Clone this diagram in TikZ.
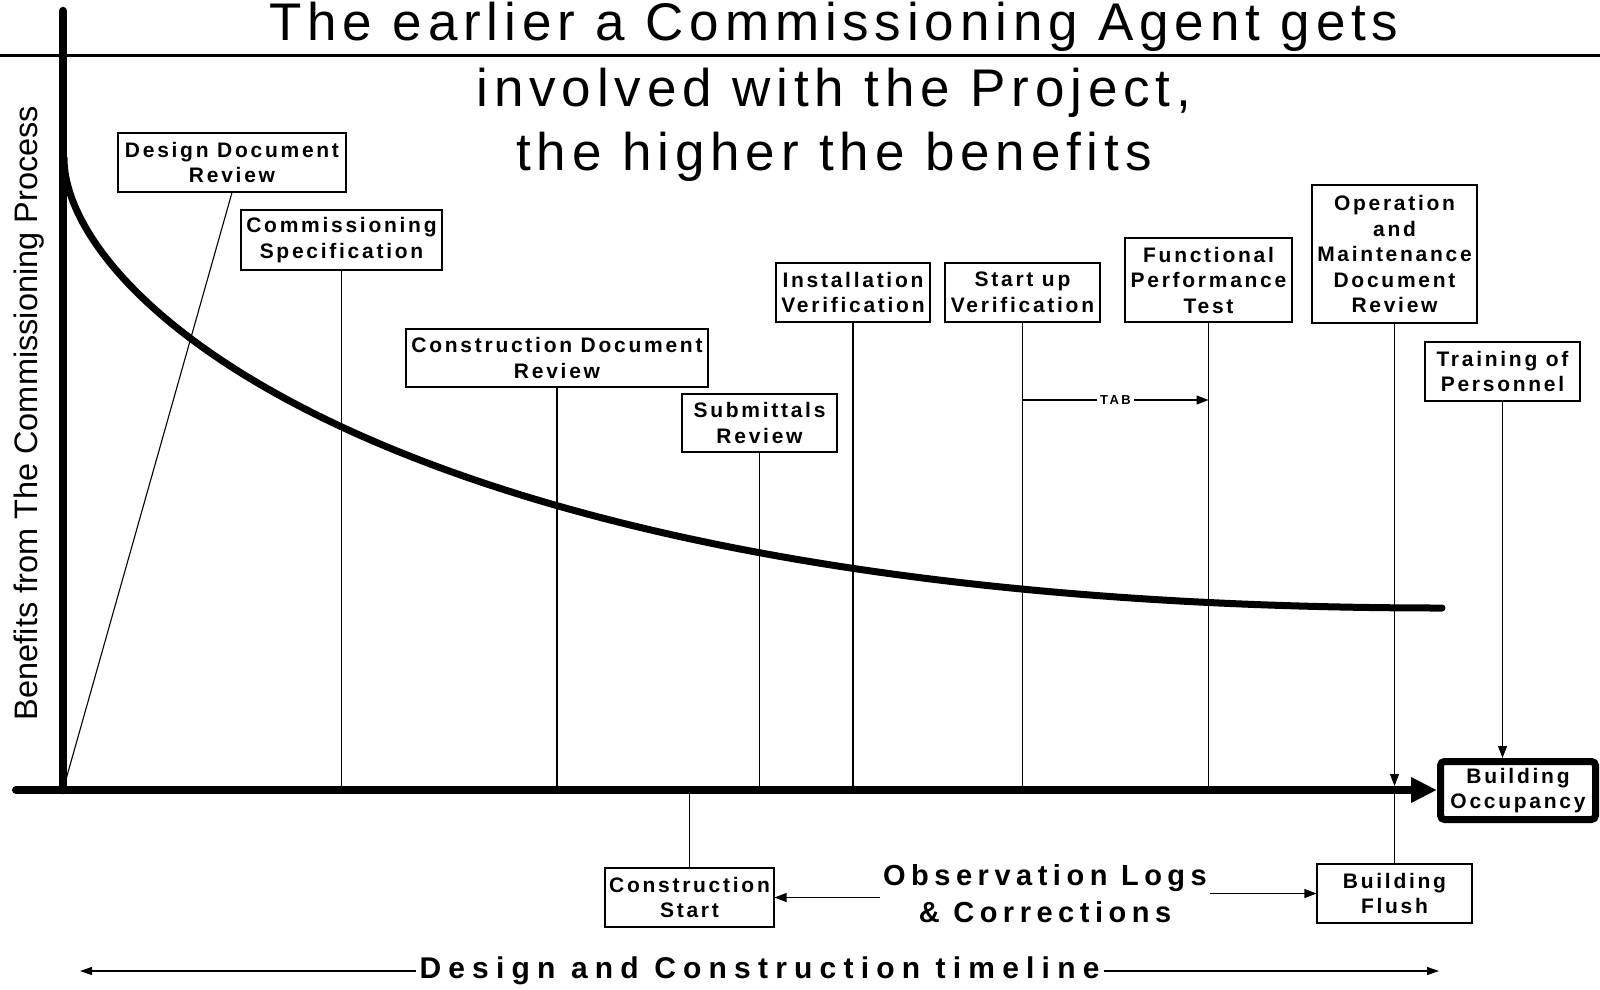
\documentclass[tikz,border=0pt]{standalone}
\usepackage{fontspec}
\setmainfont{Liberation Sans}
\newfontfamily\titlefont{Liberation Sans}[LetterSpace=11]
\newfontfamily\boxfont{Liberation Sans}[LetterSpace=13]
\newfontfamily\obsfont{Liberation Sans}[LetterSpace=19]
\newfontfamily\timefont{Liberation Sans}[LetterSpace=24]
\usetikzlibrary{arrows.meta,calc}

\tikzset{
  phase/.style={draw, line width=1.1pt, align=center, inner sep=0pt,
    font=\boxfont\bfseries\fontsize{21pt}{25.5pt}\selectfont},
  thin line/.style={line width=1.1pt},
  small tip/.style={-{Triangle[length=12pt,width=9pt]}},
}

\begin{document}
\begin{tikzpicture}[x=1pt, y=-1pt]  % one unit per pixel, y pointing down
    \useasboundingbox (0,0) rectangle (1600,989);

    % Title with the rule under its first line
    \draw[line width=2.5pt] (0,55.5) -- (1600,55.5);
    \node[anchor=base, font=\titlefont\fontsize{53pt}{64pt}\selectfont] (title1) at (834,40) {The earlier a Commissioning Agent gets};
    \node[anchor=base, font=\titlefont\fontsize{53pt}{64pt}\selectfont] (title2) at (834,106) {involved with the Project,};
    \node[anchor=base, font=\titlefont\fontsize{53pt}{64pt}\selectfont] (title3) at (834,170) {the higher the benefits};

    % Vertical axis and its label
    \coordinate (origin) at (63,790);
    \draw[line width=8.5pt, line cap=round] (origin) -- (63,11);
    \node[rotate=90, font=\fontsize{32.5pt}{40pt}\selectfont] (ylabel) at (29,413) {Benefits from The Commissioning Process};

    % Benefit curve
    \draw[line width=7pt, line cap=round] (64,158) .. controls (64,300) and (400,608) .. (1442,608);

    % Process steps above the timeline
    \node[phase, minimum width=228pt, minimum height=59pt] (dd) at (232,162.5) {Design Document\\Review};
    \node[phase, minimum width=201pt, minimum height=60pt] (cs) at (341.5,240) {Commissioning\\Specification};
    \node[phase, minimum width=302pt, minimum height=58pt] (cdr) at (557,358) {Construction Document\\Review};
    \node[phase, minimum width=155pt, minimum height=58pt] (sub) at (759.5,423) {Submittals\\Review};
    \node[phase, minimum width=154pt, minimum height=59pt] (iv) at (853,292.5) {Installation\\Verification};
    \node[phase, minimum width=155pt, minimum height=59pt] (suv) at (1022.5,292.5) {Start up\\Verification};
    \node[phase, minimum width=167pt, minimum height=84pt] (fpt) at (1208.5,280) {Functional\\Performance\\Test};
    \node[phase, minimum width=165pt, minimum height=138pt] (om) at (1394.5,254) {Operation\\and\\Maintenance\\Document\\Review};
    \node[phase, minimum width=155pt, minimum height=59pt] (tp) at (1502.5,371.5) {Training of\\Personnel};
    \node[phase, line width=7pt, rounded corners=4pt, minimum width=155pt, minimum height=58pt] (bo) at (1518,790.5) {Building\\Occupancy};

    % Steps below the timeline
    \node[phase, minimum width=169pt, minimum height=59pt] (cst) at (689.5,897.5) {Construction\\Start};
    \node[phase, minimum width=155pt, minimum height=59pt] (bf) at (1394.5,893.5) {Building\\Flush};

    % Horizontal axis ending at the occupancy box
    \coordinate (xstart) at (16,790);
    \draw[line width=8pt, line cap=round, -{Triangle[length=26pt,width=24pt]}] (xstart) -- (xstart -| bo.west);

    % Drop lines from each step to the axis
    \draw[thin line] (dd.south) -- (origin);
    \foreach \n in {cs, cdr, sub, iv, suv, fpt} {
        \draw[thin line] (\n.south) -- (\n.south |- origin);
    }
    \draw[thin line, small tip] (om.south) -- ($(om.south |- origin)+(0,-4)$);
    \draw[thin line] (om.south |- origin) -- (bf.north);
    \draw[thin line, small tip] (tp.south) -- (tp.south |- bo.north);
    \draw[thin line] (cst.north |- origin) -- (cst.north);

    % TAB between start up and functional test
    \coordinate (tab) at (0,400);
    \draw[thin line, small tip] (suv.south |- tab) -- node[fill=white, inner xsep=3pt, inner ysep=1pt, font=\obsfont\bfseries\fontsize{13pt}{15pt}\selectfont] (tablabel) {TAB} (fpt.south |- tab);

    % Observation logs feeding both ends
    \node[align=center, inner xsep=3pt, font=\obsfont\bfseries\fontsize{29pt}{37pt}\selectfont] (obs) at (1045,894) {Observation Logs\\\& Corrections};
    \draw[thin line, small tip] (obs.west |- cst.east) -- (cst.east);
    \draw[thin line, small tip] (obs.east |- bf.west) -- (bf.west);

    % Timeline along the bottom
    \coordinate (tlstart) at (80,971);
    \coordinate (tlend) at (1439,971);
    \draw[thin line, {Triangle[length=12pt,width=8pt]}-{Triangle[length=12pt,width=8pt]}] (tlstart) -- node[fill=white, inner xsep=4pt, inner ysep=1pt, font=\timefont\bfseries\fontsize{30pt}{36pt}\selectfont] (timeline) {Design and Construction timeline} (tlend);

\end{tikzpicture}
\end{document}
